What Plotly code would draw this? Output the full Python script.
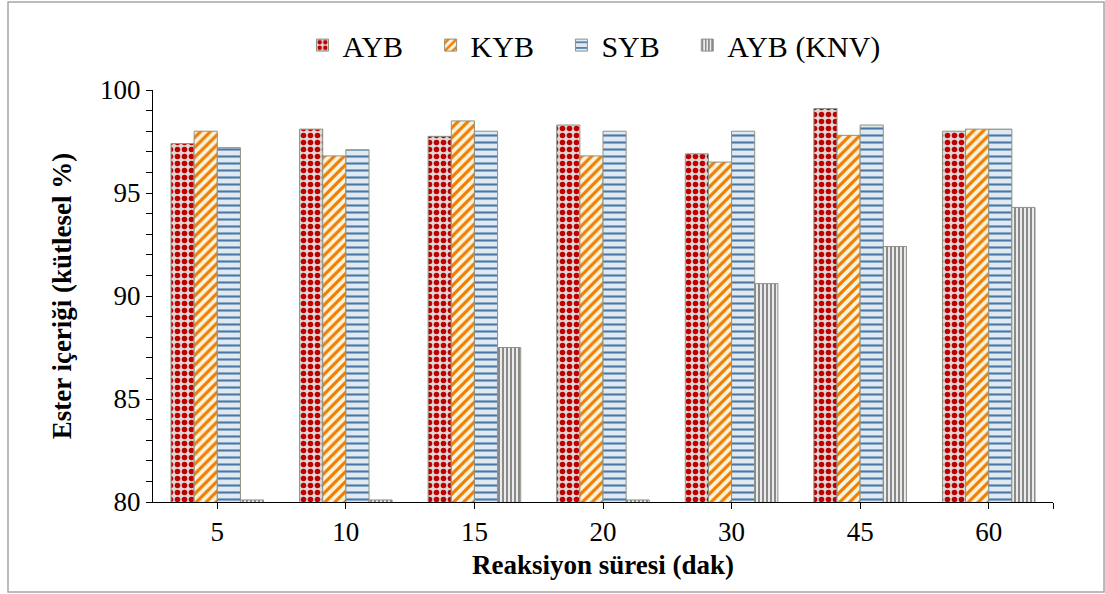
import plotly.graph_objects as go

categories = ["5", "10", "15", "20", "30", "45", "60"]
ayb = [97.4, 98.1, 97.75, 98.3, 96.9, 99.1, 98.0]
kyb = [98.0, 96.8, 98.5, 96.8, 96.5, 97.8, 98.1]
syb = [97.2, 97.1, 98.0, 98.0, 98.0, 98.3, 98.1]
ayb_knv = [80.1, 80.1, 87.5, 80.1, 90.6, 92.4, 94.3]

series_names = ["AYB", "KYB", "SYB", "AYB (KNV)"]

xpos = list(range(len(categories)))
FONT = "Liberation Serif, Times New Roman, serif"
NB = "\u00a0\u00a0\u00a0"

styles = [
    dict(shape=".", fgcolor="#c00000", bgcolor="#dcd8d6", size=7, solidity=0.5),
    dict(shape="/", fgcolor="#f07c00", bgcolor="#fbf4dc", size=7, solidity=0.45),
    dict(shape="-", fgcolor="#4a76a8", bgcolor="#dfe9ef", size=7, solidity=0.3),
    dict(shape="|", fgcolor="#7f7f7f", bgcolor="#ececec", size=4, solidity=0.45),
]

fig = go.Figure()
for i, (name, vals, st) in enumerate(zip(series_names, [ayb, kyb, syb, ayb_knv], styles)):
    label = name + (NB if i < len(series_names) - 1 else "")
    fig.add_trace(go.Bar(
        x=xpos, y=vals, name=label,
        marker=dict(
            color=st["bgcolor"],
            line=dict(color="#8c9284", width=1),
            pattern=dict(shape=st["shape"], fgcolor=st["fgcolor"], bgcolor=st["bgcolor"],
                         size=st["size"], solidity=st["solidity"], fillmode="overlay",
                         fgopacity=1),
        ),
    ))

fig.update_layout(
    width=1105, height=594,
    margin=dict(l=153, r=52, t=90, b=92),
    paper_bgcolor="white", plot_bgcolor="white",
    barmode="group", bargap=0.28, bargroupgap=0,
    font=dict(family=FONT, size=26, color="black"),
    legend=dict(orientation="h", x=0.49, xanchor="center", y=1.109, yanchor="middle",
                font=dict(family=FONT, size=30, color="black"),
                itemwidth=30, tracegroupgap=0),
    showlegend=True,
)

fig.update_xaxes(
    range=[-0.5, len(categories) - 0.5],
    tickvals=xpos + [len(categories) - 0.5],
    ticktext=categories + [""],
    ticks="outside", ticklen=6, tickcolor="black",
    showline=True, linecolor="black", linewidth=1,
    showgrid=False, zeroline=False,
    tickfont=dict(family=FONT, size=27),
    title=dict(text="<b>Reaksiyon süresi (dak)</b>", font=dict(family=FONT, size=27), standoff=8),
)

fig.update_yaxes(
    range=[80, 100], dtick=5, tick0=80,
    ticks="outside", ticklen=6, tickcolor="black",
    minor=dict(dtick=1, ticks="outside", ticklen=6, tickcolor="black"),
    showline=True, linecolor="black", linewidth=1,
    showgrid=False, zeroline=False,
    tickfont=dict(family=FONT, size=27),
    title=dict(text="<b>Ester içeriği (kütlesel %)</b>", font=dict(family=FONT, size=27), standoff=20),
)

fig.add_shape(type="rect", xref="paper", yref="paper",
              x0=-0.1611, x1=1.0567, y0=-0.2184, y1=1.2136,
              line=dict(color="#a6a6a6", width=1.5), fillcolor="rgba(0,0,0,0)", layer="below")

fig.write_html("out.html")
